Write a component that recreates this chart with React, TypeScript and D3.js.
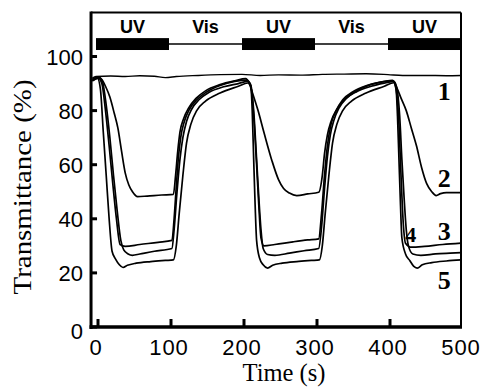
import { useRef, useEffect } from 'react'
import * as d3 from 'd3'

// illumination phases shown in the top bar
const phaseLabels = ['UV', 'Vis', 'UV', 'Vis', 'UV']
const phaseStart = [0, 100, 200, 300, 400]
const phaseEnd = [100, 200, 300, 400, 500]

const xTicks = [0, 100, 200, 300, 400, 500]
const yTicks = [0, 20, 40, 60, 80, 100]

// transmittance traces, [time (s), transmittance (%)]
const curve1: [number, number][] = [
  [-5, 92.0], [0, 92.6], [20, 92.8], [40, 92.6], [60, 92.9], [80, 92.7], [95, 92.2], [110, 92.6],
  [140, 93.0], [170, 93.3], [200, 93.4], [225, 93.0], [250, 93.2], [280, 93.1], [310, 93.4],
  [340, 93.5], [370, 93.6], [400, 93.3], [420, 93.0], [450, 93.0], [480, 92.9], [500, 93.0],
]

const curve2: [number, number][] = [
  [-5, 91.5], [3, 92.5], [8, 91.5], [13, 89], [19, 85], [25, 79], [30, 73.5], [35, 65], [40, 57],
  [45, 52.5], [50, 50], [57, 48.2], [70, 48.4], [90, 48.8], [106, 49], [109, 56], [112, 65],
  [115, 72], [120, 77], [127, 81], [137, 84.5], [150, 87.3], [170, 89.6], [190, 91], [205, 91.8],
  [210, 90], [215, 86], [222, 80], [230, 72], [241, 61.5], [250, 54.5], [257, 51.2], [265, 49.5],
  [275, 48.6], [290, 49.2], [305, 49.8], [310, 56], [313, 64], [317, 71], [322, 76], [330, 80.5],
  [340, 84], [355, 87], [375, 89.5], [395, 90.8], [406, 91.2], [412, 88.5], [418, 84.5], [425, 80],
  [432, 73.5], [439, 67], [446, 59], [453, 53], [460, 50], [466, 48.6], [472, 49.3], [480, 49.7],
  [500, 49.7],
]

const curve3: [number, number][] = [
  [-5, 91], [3, 92], [8, 90], [13, 80], [18, 67], [23, 53], [28, 40], [33, 30.5], [40, 29.8],
  [60, 30.5], [85, 31.3], [104, 32], [107, 40], [110, 52], [113, 63], [116, 70], [121, 76],
  [128, 80.5], [138, 84], [152, 87], [170, 89.3], [190, 90.8], [207, 91.3], [212, 89], [216, 78],
  [220, 60], [223, 45], [226, 33], [230, 30], [245, 30.5], [270, 31.5], [290, 32.2], [305, 32.6],
  [309, 42], [313, 56], [317, 67], [322, 75], [329, 80], [338, 84], [352, 87], [370, 89.2],
  [390, 90.5], [407, 91], [411, 88], [415, 75], [418, 55], [421, 38], [424, 31], [432, 29.5],
  [450, 29.8], [475, 30.5], [500, 31],
]

const curve4: [number, number][] = [
  [-5, 91], [4, 92.2], [9, 90.5], [14, 82], [19, 70], [24, 56], [29, 43], [34, 32], [38, 28.5],
  [44, 27], [50, 26.5], [60, 27], [80, 28], [104, 29], [107, 36], [111, 50], [115, 62], [119, 70],
  [124, 76], [131, 80.5], [141, 84], [155, 86.8], [175, 88.8], [195, 90], [208, 90.8], [212, 89.5],
  [216, 80], [220, 62], [223, 48], [226, 36], [229, 29], [235, 26.8], [245, 26.5], [265, 27.3],
  [285, 28.2], [305, 29], [309, 37], [313, 51], [317, 63], [321, 71], [326, 76.5], [333, 81],
  [343, 84.5], [357, 87], [377, 89], [396, 90.2], [408, 90.8], [412, 88.5], [416, 78], [419, 62],
  [422, 48], [425, 36], [428, 30], [434, 27], [445, 26.5], [465, 27], [485, 27.3], [500, 27.5],
]

const curve5: [number, number][] = [
  [-5, 91.5], [2, 92], [6, 88], [10, 72], [14, 56], [18, 40], [22, 28], [27, 25], [32, 23],
  [37, 22], [43, 22.8], [55, 23.6], [75, 24.2], [95, 24.6], [106, 24.8], [110, 30], [114, 42],
  [119, 56], [124, 68], [130, 75], [138, 80], [150, 83.5], [170, 86.5], [195, 89],
  [208, 90.2], [212, 89], [214, 80], [216, 62], [218, 45], [220, 32], [224, 25.5], [229, 23],
  [235, 21.8], [242, 22.8], [255, 23.6], [275, 24.2], [295, 24.6], [306, 24.8], [310, 30],
  [314, 42], [319, 56], [324, 68], [330, 75], [338, 80], [350, 83.5], [370, 86.5], [395, 89],
  [408, 90.3], [411, 88], [413, 78], [415, 62], [417, 46], [419, 33], [424, 27],
  [430, 24.5], [435, 22.5], [440, 21.8], [447, 23], [460, 23.8], [480, 24.4], [500, 24.8],
]

const curves = [curve1, curve2, curve3, curve4, curve5]

// curve number labels: [label, time, transmittance]
const curveLabels: [string, number, number][] = [
  ['1', 477, 83.9], ['2', 477, 51.7], ['3', 477, 32.2], ['4', 431, 31.5], ['5', 477, 14],
]

export default function App() {
  const svgRef = useRef<SVGSVGElement>(null)

  useEffect(() => {
    if (!svgRef.current) return
    const svg = d3.select(svgRef.current)
    svg.selectAll('*').remove()

    const width = 485
    const height = 387
    svg.attr('width', width).attr('height', height).attr('viewBox', `0 0 ${width} ${height}`)

    const x = d3.scaleLinear().domain([0, 500]).range([96, 461])
    const y = d3.scaleLinear().domain([0, 100]).range([327, 56.5])

    const left = x(-6.8)
    const right = x(500)
    const top = y(116.3)
    const bottom = y(0)

    const sans = 'Liberation Sans, Arial, Helvetica, sans-serif'
    const serif = 'Liberation Serif, Times New Roman, serif'

    // frame: thin top/right, heavy left/bottom axes
    svg.append('line').attr('x1', left).attr('x2', right).attr('y1', top).attr('y2', top)
      .attr('stroke', '#000').attr('stroke-width', 2)
    svg.append('line').attr('x1', right).attr('x2', right).attr('y1', top).attr('y2', bottom)
      .attr('stroke', '#000').attr('stroke-width', 2)
    svg.append('line').attr('x1', left).attr('x2', left).attr('y1', top - 1).attr('y2', bottom + 2)
      .attr('stroke', '#000').attr('stroke-width', 3)
    svg.append('line').attr('x1', left - 1.5).attr('x2', right + 1).attr('y1', bottom).attr('y2', bottom)
      .attr('stroke', '#000').attr('stroke-width', 3.5)

    // inward ticks
    svg.selectAll('.ytick').data(yTicks).join('line').attr('class', 'ytick')
      .attr('x1', left).attr('x2', left + 6).attr('y1', d => y(d)).attr('y2', d => y(d))
      .attr('stroke', '#000').attr('stroke-width', 3)
    svg.selectAll('.xtick').data(xTicks.slice(0, -1)).join('line').attr('class', 'xtick')
      .attr('x1', d => x(d) + 2).attr('x2', d => x(d) + 2).attr('y1', bottom).attr('y2', bottom - 8)
      .attr('stroke', '#000').attr('stroke-width', 3)

    // tick labels
    svg.selectAll('.ylab').data(yTicks).join('text').attr('class', 'ylab')
      .attr('x', 83).attr('y', d => y(d) + (d === 0 ? 12 : 8.5))
      .attr('text-anchor', 'end')
      .style('font-family', sans).style('font-size', '22px').style('fill', '#000')
      .text(d => d)
    svg.selectAll('.xlab').data(xTicks).join('text').attr('class', 'xlab')
      .attr('x', d => x(d)).attr('y', 355)
      .attr('text-anchor', 'middle')
      .style('font-family', sans).style('font-size', '22px').style('letter-spacing', '1px').style('fill', '#000')
      .text(d => d)

    // axis titles
    svg.append('text')
      .attr('x', 284).attr('y', 381)
      .attr('text-anchor', 'middle')
      .attr('textLength', 83).attr('lengthAdjust', 'spacingAndGlyphs')
      .style('font-family', serif).style('font-size', '25px').style('fill', '#000')
      .text('Time (s)')
    svg.append('text')
      .attr('transform', 'translate(31,187) rotate(-90)')
      .attr('text-anchor', 'middle')
      .attr('textLength', 215).attr('lengthAdjust', 'spacingAndGlyphs')
      .style('font-family', serif).style('font-size', '26px').style('fill', '#000')
      .text('Transmittance (%)')

    // illumination bar
    const phases = phaseLabels.map((label, i) => ({ label, start: phaseStart[i], end: phaseEnd[i] }))
    svg.append('line')
      .attr('x1', x(0)).attr('x2', right).attr('y1', y(104.6)).attr('y2', y(104.6))
      .attr('stroke', '#000').attr('stroke-width', 1.5)
    svg.selectAll('.uvbar').data(phases.filter(p => p.label === 'UV')).join('rect').attr('class', 'uvbar')
      .attr('x', d => x(d.start)).attr('width', d => x(d.end) - x(d.start))
      .attr('y', y(106.8)).attr('height', y(102.4) - y(106.8))
      .attr('fill', '#000')
    svg.selectAll('.phase').data(phases).join('text').attr('class', 'phase')
      .attr('x', d => x((d.start + d.end) / 2)).attr('y', y(108.7))
      .attr('text-anchor', 'middle')
      .style('font-family', sans).style('font-size', '18px').style('font-weight', 'bold').style('fill', '#000')
      .text(d => d.label)

    // traces
    const line = d3.line<[number, number]>()
      .x(d => x(d[0]))
      .y(d => y(d[1]))
      .curve(d3.curveMonotoneX)
    svg.selectAll('.trace').data(curves).join('path').attr('class', 'trace')
      .attr('d', d => line(d))
      .attr('fill', 'none')
      .attr('stroke', '#000')
      .attr('stroke-width', (_, i) => (i === 0 ? 1.4 : 1.7))
      .attr('stroke-linejoin', 'round')

    // curve numbers
    svg.selectAll('.cnum').data(curveLabels).join('text').attr('class', 'cnum')
      .attr('x', d => x(d[1])).attr('y', d => y(d[2]))
      .attr('text-anchor', 'middle')
      .style('font-family', serif)
      .style('font-size', d => (d[0] === '4' ? '22px' : '26px'))
      .style('font-weight', 'bold')
      .style('fill', '#000')
      .text(d => d[0])
  }, [])

  return (
    <div style={{ position: 'absolute', left: 0, top: 0, background: '#fff' }}>
      <svg ref={svgRef} style={{ display: 'block' }} />
    </div>
  )
}
